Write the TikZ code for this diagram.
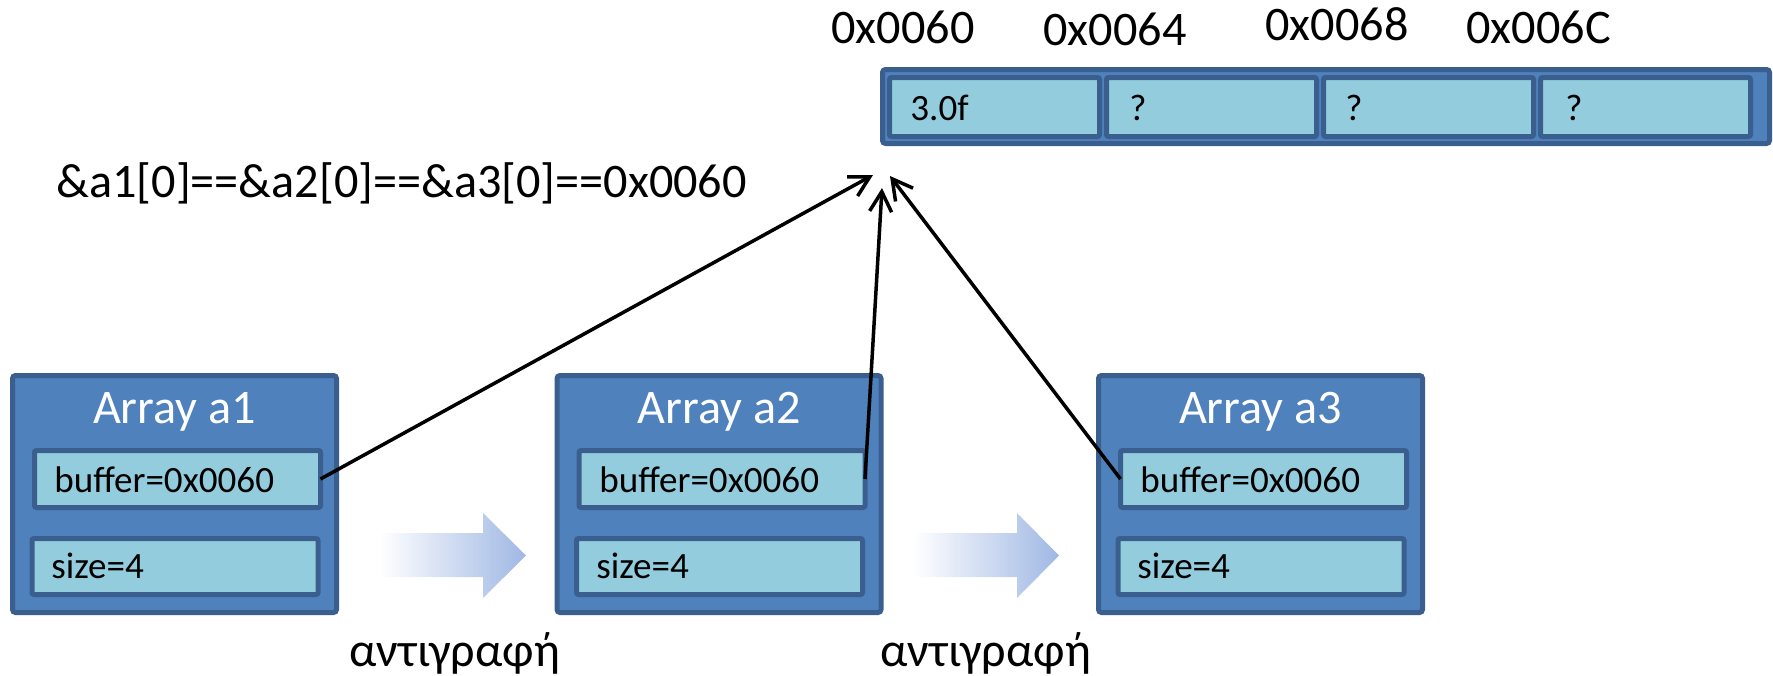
\documentclass[tikz,border=0pt]{standalone}
\usepackage{fontspec}
\setmainfont{Carlito}
\usetikzlibrary{arrows.meta}
\definecolor{boxblue}{HTML}{4F81BD}
\definecolor{edgeblue}{HTML}{3A5F8E}
\definecolor{cellcyan}{HTML}{93CDDD}
\definecolor{copyblue}{HTML}{A0B8E4}
\begin{document}
\begin{tikzpicture}[x=0.5pt,y=-0.5pt,
  holder/.style={draw=edgeblue, fill=boxblue, line width=2.5pt, rounded corners=1.5pt,
                 inner sep=0pt, outer sep=0pt},
  field/.style={draw=edgeblue, fill=cellcyan, line width=2.5pt, rounded corners=1pt,
                inner sep=0pt, outer sep=0pt},
  big/.style={font=\fontsize{24.1pt}{29pt}\selectfont, inner sep=0pt},
  small/.style={font=\fontsize{18.55pt}{22pt}\selectfont, inner sep=0pt},
  ptr/.style={line width=1.75pt, -{Straight Barb[length=10pt,width=11pt]}},
  copyarrow/.style={left color=white, right color=copyblue}
]
\useasboundingbox (0,0) rectangle (1773,675);

% memory block with four float cells
\node[holder, minimum width=443.5pt, minimum height=37pt] (mem) at (1326,106.5) {};
\node[field, minimum width=105pt, minimum height=29.5pt] (c1) at (994.5,107) {};
\node[field, minimum width=105pt, minimum height=29.5pt] (c2) at (1211.5,107) {};
\node[field, minimum width=105pt, minimum height=29.5pt] (c3) at (1428.5,107) {};
\node[field, minimum width=105pt, minimum height=29.5pt] (c4) at (1645.5,107) {};
\node[small, anchor=base west] (v1) at (910,120) {3.0f};
\node[small, anchor=base west] (v2) at (1129,120) {?};
\node[small, anchor=base west] (v3) at (1345,120) {?};
\node[small, anchor=base west] (v4) at (1565,120) {?};

% addresses
\node[big, anchor=base west] (ad1) at (831,43) {0x0060};
\node[big, anchor=base west] (ad2) at (1043,45) {0x0064};
\node[big, anchor=base west] (ad3) at (1265,40) {0x0068};
\node[big, anchor=base west] (ad4) at (1466,43) {0x006C};

\node[big, anchor=base west] (eq) at (56,197) {\&a1[0]==\&a2[0]==\&a3[0]==0x0060};

% array a1
\node[holder, minimum width=162pt, minimum height=118.5pt] (a1) at (174.5,494) {};
\node[field, minimum width=143pt, minimum height=28.5pt] (b1) at (177.5,479) {};
\node[field, minimum width=143pt, minimum height=28pt] (s1) at (175,566.5) {};
\node[big, text=white, anchor=base] (n1) at (174.5,423) {Array a1};
\node[small, anchor=base west] (bt1) at (54,492) {buffer=0x0060};
\node[small, anchor=base west] (st1) at (51,578) {size=4};

% array a2
\node[holder, minimum width=162pt, minimum height=118.5pt] (a2) at (719,494) {};
\node[field, minimum width=143pt, minimum height=28.5pt] (b2) at (722,479) {};
\node[field, minimum width=143pt, minimum height=28pt] (s2) at (719.5,566.5) {};
\node[big, text=white, anchor=base] (n2) at (719,423) {Array a2};
\node[small, anchor=base west] (bt2) at (599,492) {buffer=0x0060};
\node[small, anchor=base west] (st2) at (596,578) {size=4};

% array a3
\node[holder, minimum width=162pt, minimum height=118.5pt] (a3) at (1260.5,494) {};
\node[field, minimum width=143pt, minimum height=28.5pt] (b3) at (1263.5,479) {};
\node[field, minimum width=143pt, minimum height=28pt] (s3) at (1261,566.5) {};
\node[big, text=white, anchor=base] (n3) at (1260.5,423) {Array a3};
\node[small, anchor=base west] (bt3) at (1140,492) {buffer=0x0060};
\node[small, anchor=base west] (st3) at (1137,578) {size=4};

% copy arrows
\shade[copyarrow] (379,533) -- (483,533) -- (483,513) -- (526,555.5) -- (483,598)
  -- (483,577) -- (379,577) -- cycle;
\shade[copyarrow] (913,533) -- (1017,533) -- (1017,513) -- (1059,555.5) -- (1017,598)
  -- (1017,577) -- (913,577) -- cycle;
\node[big, anchor=base west] (cp1) at (349,666) {αντιγραφή};
\node[big, anchor=base west] (cp2) at (880,666) {αντιγραφή};

% pointers into the shared buffer
\coordinate (p1) at (873,175);
\coordinate (p2) at (882,188);
\coordinate (p3) at (890,176);
\draw[ptr] (b1.east) -- (p1);
\draw[ptr] (b2.east) -- (p2);
\draw[ptr] (b3.west) -- (p3);
\end{tikzpicture}
\end{document}
